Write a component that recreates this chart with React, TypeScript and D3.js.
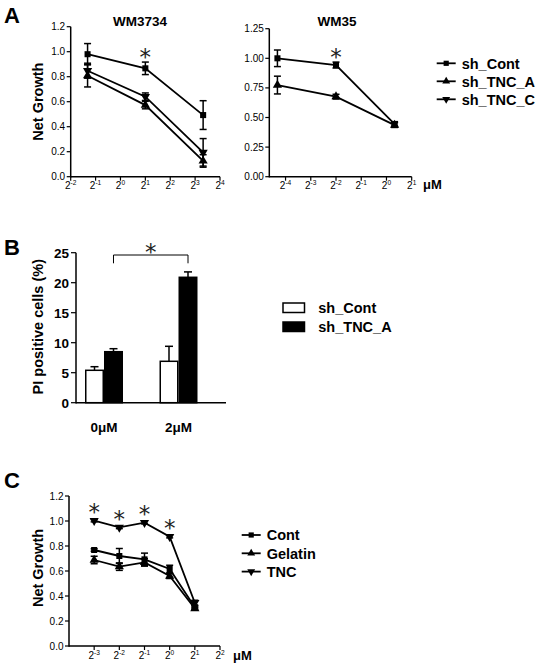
import React from "react";
import * as d3 from "d3";

const F = "'Liberation Sans', Arial, Helvetica, sans-serif";

// ---------- Panel A data ----------
const seriesA = ["sh_Cont", "sh_TNC_A", "sh_TNC_C"];
const dosesWM3734 = [0.4, 2, 10];
const wm3734Cont = [0.98, 0.867, 0.493];
const wm3734ContErr = [0.085, 0.05, 0.115];
const wm3734TncA = [0.808, 0.573, 0.126];
const wm3734TncAErr = [0.09, 0.03, 0.05];
const wm3734TncC = [0.848, 0.64, 0.195];
const wm3734TncCErr = [0.06, 0.03, 0.11];

const dosesWM35 = [0.05, 0.25, 1.25];
const wm35Cont = [1.0, 0.943, 0.445];
const wm35ContErr = [0.07, 0.025, 0.02];
const wm35TncA = [0.774, 0.676, 0.436];
const wm35TncAErr = [0.075, 0.02, 0.02];

const yTicksA1 = [0, 0.2, 0.4, 0.6, 0.8, 1.0, 1.2];
const yTicksA2 = [0, 0.25, 0.5, 0.75, 1.0, 1.25];
const xExpA1 = [-2, -1, 0, 1, 2, 3, 4];
const xExpA2 = [-4, -3, -2, -1, 0, 1];

// ---------- Panel B data ----------
const groupsB = ["0\u03bcM", "2\u03bcM"];
const seriesB = ["sh_Cont", "sh_TNC_A"];
const bCont = [5.4, 6.9];
const bContErr = [0.6, 2.5];
const bTnc = [8.5, 20.9];
const bTncErr = [0.5, 0.9];
const yTicksB = [0, 5, 10, 15, 20, 25];

// ---------- Panel C data ----------
const seriesC = ["Cont", "Gelatin", "TNC"];
const dosesC = [0.125, 0.25, 0.5, 1, 2];
const cCont = [0.768, 0.72, 0.693, 0.616, 0.31];
const cContErr = [0.01, 0.06, 0.05, 0.03, 0.01];
const cGel = [0.688, 0.635, 0.669, 0.56, 0.3];
const cGelErr = [0.03, 0.03, 0.03, 0.02, 0.01];
const cTnc = [1.003, 0.949, 0.987, 0.875, 0.346];
const cTncErr = [0.01, 0.01, 0.01, 0.01, 0.02];
const yTicksC = [0, 0.2, 0.4, 0.6, 0.8, 1.0, 1.2];
const xExpC = [-3, -2, -1, 0, 1, 2];

type Shape = "square" | "up" | "down";

function Marker({ x, y, shape, size = 7 }: { x: number; y: number; shape: Shape; size?: number }) {
  if (shape === "square") {
    const p = d3.symbol().type(d3.symbolSquare).size(size * size * 0.75)();
    return <path d={p || ""} transform={`translate(${x},${y})`} fill="#000" />;
  }
  const p = d3.symbol().type(d3.symbolTriangle).size(size * size * 0.75)();
  return (
    <path
      d={p || ""}
      transform={`translate(${x},${y}) rotate(${shape === "down" ? 180 : 0})`}
      fill="#000"
    />
  );
}

function Star({ x, y }: { x: number; y: number }) {
  return (
    <text x={x} y={y + 13} textAnchor="middle" fontFamily="'DejaVu Sans', sans-serif" fontSize={23} fill="#222">
      *
    </text>
  );
}

function Pow2({ x, y, exp, size = 10 }: { x: number; y: number; exp: number; size?: number }) {
  return (
    <text x={x} y={y} textAnchor="middle" fontFamily={F} fontSize={size} fill="#000">
      2
      <tspan dy={-4} fontSize={size * 0.66}>
        {String(exp)}
      </tspan>
    </text>
  );
}

type Series = { vals: number[]; err: number[]; shape: Shape };

function LinePanel({
  x,
  y,
  doses,
  series,
  yTicks,
  xExps,
  fmt,
}: {
  x: d3.ScaleLogarithmic<number, number>;
  y: d3.ScaleLinear<number, number>;
  doses: number[];
  series: Series[];
  yTicks: number[];
  xExps: number[];
  fmt: (v: number) => string;
}) {
  const [x0, x1] = x.range();
  const [y0, y1] = y.range();
  const line = d3
    .line<number>()
    .x((_, i) => x(doses[i]))
    .y((v) => y(v));
  return (
    <g>
      <line x1={x0} x2={x0} y1={y0 + 0.75} y2={y1} stroke="#000" strokeWidth={1.5} />
      <line x1={x0} x2={x1} y1={y0} y2={y0} stroke="#000" strokeWidth={1.5} />
      {yTicks.map((t) => (
        <g key={"y" + t}>
          <line x1={x0 - 4} x2={x0} y1={y(t)} y2={y(t)} stroke="#000" strokeWidth={1.2} />
          <text x={x0 - 5.5} y={y(t) + 3.5} textAnchor="end" fontFamily={F} fontSize={10} fill="#000">
            {fmt(t)}
          </text>
        </g>
      ))}
      {xExps.map((e) => {
        const px = x(Math.pow(2, e));
        return (
          <g key={"x" + e}>
            <line x1={px} x2={px} y1={y0} y2={y0 + 4} stroke="#000" strokeWidth={1.2} />
            <Pow2 x={px} y={y0 + 12.5} exp={e} />
          </g>
        );
      })}
      {series.map((s, si) => (
        <g key={"s" + si}>
          <path d={line(s.vals) || ""} fill="none" stroke="#000" strokeWidth={1.8} />
          {s.vals.map((v, i) => {
            const px = x(doses[i]);
            const top = y(v + s.err[i]);
            const bot = y(Math.max(0, v - s.err[i]));
            return (
              <g key={i}>
                <line x1={px} x2={px} y1={top} y2={bot} stroke="#000" strokeWidth={1.5} />
                <line x1={px - 3.5} x2={px + 3.5} y1={top} y2={top} stroke="#000" strokeWidth={1.5} />
                <line x1={px - 3.5} x2={px + 3.5} y1={bot} y2={bot} stroke="#000" strokeWidth={1.5} />
                <Marker x={px} y={y(v)} shape={s.shape} />
              </g>
            );
          })}
        </g>
      ))}
    </g>
  );
}

function LineLegend({ x, y, labels, shapes, dy, size }: { x: number; y: number; labels: string[]; shapes: Shape[]; dy: number; size: number }) {
  return (
    <g>
      {labels.map((l, i) => (
        <g key={l}>
          <line x1={x} x2={x + 19} y1={y + i * dy} y2={y + i * dy} stroke="#000" strokeWidth={1.8} />
          <Marker x={x + 9.5} y={y + i * dy} shape={shapes[i]} size={6} />
          <text x={x + 25} y={y + i * dy + size * 0.36} fontFamily={F} fontWeight="bold" fontSize={size} fill="#000">
            {l}
          </text>
        </g>
      ))}
    </g>
  );
}

export default function App() {
  const xA1 = d3.scaleLog().base(2).domain([0.25, 16]).range([70.7, 220]);
  const yA1 = d3.scaleLinear().domain([0, 1.2]).range([176.7, 26.7]);
  const xA2 = d3.scaleLog().base(2).domain([0.04, 2]).range([269.3, 411.7]);
  const yA2 = d3.scaleLinear().domain([0, 1.25]).range([176.7, 28.7]);
  const yB = d3.scaleLinear().domain([0, 25]).range([402.7, 252.7]);
  const xB = d3.scaleBand<string>().domain(groupsB).range([85, 197.5]).paddingInner(0.49).paddingOuter(0);
  const xBInner = d3.scaleBand<string>().domain(seriesB).range([0, xB.bandwidth()]).padding(0);
  const xC = d3.scaleLog().base(2).domain([0.0625, 4]).range([69, 220]);
  const yC = d3.scaleLinear().domain([0, 1.2]).range([646, 496]);

  const fmt1 = d3.format(".1f");
  const fmt2 = d3.format(".2f");

  const bVals = [bCont, bTnc];
  const bErrs = [bContErr, bTncErr];
  const bFill = ["#fff", "#000"];

  const g1c = xB(groupsB[0])! + xBInner("sh_TNC_A")! + xBInner.bandwidth() / 2;
  const g2c = xB(groupsB[1])! + xBInner("sh_TNC_A")! + xBInner.bandwidth() / 2;

  return (
    <svg
      width={544}
      height={665}
      viewBox="0 0 544 665"
      style={{ position: "absolute", left: 0, top: 0, background: "#fff" }}
    >
      <rect x={0} y={0} width={544} height={665} fill="#fff" />
      {/* Panel A */}
      <text x={4} y={23} fontFamily={F} fontWeight="bold" fontSize={22} fill="#000">A</text>
      <text x={140} y={26} textAnchor="middle" fontFamily={F} fontWeight="bold" fontSize={13.5} fill="#000">WM3734</text>
      <text x={337} y={26} textAnchor="middle" fontFamily={F} fontWeight="bold" fontSize={13.5} fill="#000">WM35</text>
      <text
        transform="translate(38,101.7) rotate(-90)"
        textAnchor="middle"
        dominantBaseline="central"
        fontFamily={F}
        fontWeight="bold"
        fontSize={14.5}
        fill="#000"
      >
        Net Growth
      </text>
      <LinePanel
        x={xA1}
        y={yA1}
        doses={dosesWM3734}
        yTicks={yTicksA1}
        xExps={xExpA1}
        fmt={fmt1}
        series={[
          { vals: wm3734Cont, err: wm3734ContErr, shape: "square" },
          { vals: wm3734TncA, err: wm3734TncAErr, shape: "up" },
          { vals: wm3734TncC, err: wm3734TncCErr, shape: "down" },
        ]}
      />
      <Star x={xA1(dosesWM3734[1])} y={51.7} />
      <LinePanel
        x={xA2}
        y={yA2}
        doses={dosesWM35}
        yTicks={yTicksA2}
        xExps={xExpA2}
        fmt={fmt2}
        series={[
          { vals: wm35Cont, err: wm35ContErr, shape: "square" },
          { vals: wm35TncA, err: wm35TncAErr, shape: "up" },
        ]}
      />
      <Star x={xA2(dosesWM35[1])} y={51.7} />
      <text x={423} y={189} fontFamily={F} fontWeight="bold" fontSize={13} fill="#000">{"\u03bcM"}</text>
      <LineLegend x={436.7} y={63.3} labels={seriesA} shapes={["square", "up", "down"]} dy={18} size={14.5} />

      {/* Panel B */}
      <text x={4} y={255} fontFamily={F} fontWeight="bold" fontSize={22} fill="#000">B</text>
      <text
        transform="translate(38,326.7) rotate(-90)"
        textAnchor="middle"
        dominantBaseline="central"
        fontFamily={F}
        fontWeight="bold"
        fontSize={14.5}
        fill="#000"
      >
        PI positive cells (%)
      </text>
      {groupsB.map((g, gi) => (
        <g key={g}>
          {seriesB.map((s, si) => {
            const bx = xB(g)! + xBInner(s)!;
            const bw = xBInner.bandwidth();
            const v = bVals[si][gi];
            const e = bErrs[si][gi];
            const cx = bx + bw / 2;
            return (
              <g key={s}>
                <line x1={cx} x2={cx} y1={yB(v)} y2={yB(v + e)} stroke="#000" strokeWidth={1.5} />
                <line x1={cx - 4} x2={cx + 4} y1={yB(v + e)} y2={yB(v + e)} stroke="#000" strokeWidth={1.5} />
                <rect
                  x={bx + 0.75}
                  y={yB(v)}
                  width={bw - 1.5}
                  height={yB(0) - yB(v)}
                  fill={bFill[si]}
                  stroke="#000"
                  strokeWidth={1.5}
                />
              </g>
            );
          })}
          <text
            x={xB(g)! + xB.bandwidth() / 2}
            y={432}
            textAnchor="middle"
            fontFamily={F}
            fontWeight="bold"
            fontSize={13.5}
            fill="#000"
          >
            {g}
          </text>
        </g>
      ))}
      <line x1={76} x2={76} y1={yB(0) + 0.75} y2={yB(25)} stroke="#000" strokeWidth={1.5} />
      <line x1={76} x2={226} y1={yB(0)} y2={yB(0)} stroke="#000" strokeWidth={1.5} />
      {yTicksB.map((t) => (
        <g key={t}>
          <line x1={71} x2={76} y1={yB(t)} y2={yB(t)} stroke="#000" strokeWidth={1.2} />
          <text x={69} y={yB(t) + 4.8} textAnchor="end" fontFamily={F} fontWeight="bold" fontSize={13.5} fill="#000">
            {t}
          </text>
        </g>
      ))}
      <path d={`M${g1c},263.3 V255 H${g2c} V263.3`} fill="none" stroke="#000" strokeWidth={1} />
      <Star x={(g1c + g2c) / 2} y={246.7} />
      {seriesB.map((s, i) => (
        <g key={s}>
          <rect x={283} y={303 + i * 19} width={21.5} height={9.5} fill={bFill[i]} stroke="#000" strokeWidth={1.5} />
          <text x={318.3} y={312.5 + i * 19} fontFamily={F} fontWeight="bold" fontSize={14.5} fill="#000">
            {s}
          </text>
        </g>
      ))}

      {/* Panel C */}
      <text x={4} y={488} fontFamily={F} fontWeight="bold" fontSize={22} fill="#000">C</text>
      <text
        transform="translate(38,568) rotate(-90)"
        textAnchor="middle"
        dominantBaseline="central"
        fontFamily={F}
        fontWeight="bold"
        fontSize={14.5}
        fill="#000"
      >
        Net Growth
      </text>
      <LinePanel
        x={xC}
        y={yC}
        doses={dosesC}
        yTicks={yTicksC}
        xExps={xExpC}
        fmt={fmt1}
        series={[
          { vals: cCont, err: cContErr, shape: "square" },
          { vals: cGel, err: cGelErr, shape: "up" },
          { vals: cTnc, err: cTncErr, shape: "down" },
        ]}
      />
      {cTnc.slice(0, 4).map((v, i) => (
        <Star key={i} x={xC(dosesC[i])} y={yC(v) - 13.5} />
      ))}
      <text x={233} y={660} fontFamily={F} fontWeight="bold" fontSize={13} fill="#000">{"\u03bcM"}</text>
      <LineLegend x={241.7} y={535} labels={seriesC} shapes={["square", "up", "down"]} dy={18.3} size={14.5} />
    </svg>
  );
}
